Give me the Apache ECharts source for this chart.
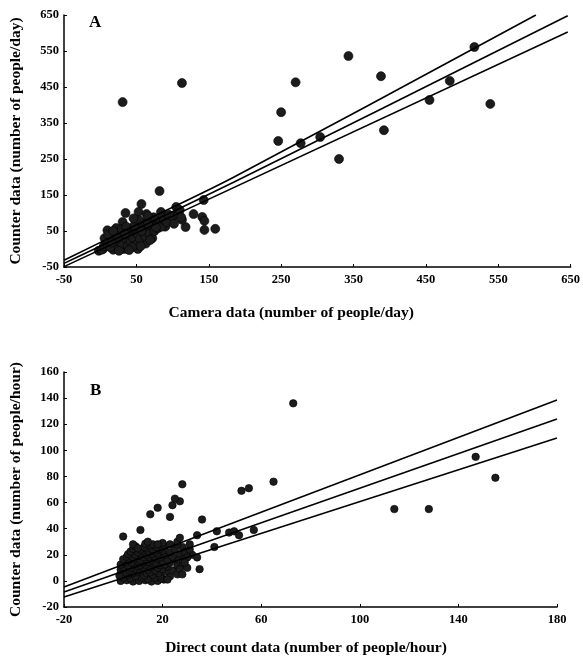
<!DOCTYPE html>
<html>
<head>
<meta charset="utf-8">
<script src="https://cdn.jsdelivr.net/npm/echarts@6/dist/echarts.min.js"></script>
<style>html,body{margin:0;padding:0;background:#fff;}#c{width:583px;height:658px;}</style>
</head>
<body>
<div id="c"></div>
<script>
// ---------- Panel A: camera vs counter (people/day) ----------
const ticksAx = [-50, 50, 150, 250, 350, 450, 550, 650];
const ticksAy = [-50, 50, 150, 250, 350, 450, 550, 650];
const pointsA = [
  [31,408],[113,461],[246,300],[250,380],[270,463],[277,294],[304,311],[330,250],
  [343,536],[388,480],[392,330],[455,414],[483,467],[517,561],[539,403],
  [82,161],[57,125],[53,103],[64,97],[84,103],[105,117],[106,100],[143,136],[129,97],
  [141,89],[144,78],[144,53],[159,56],[118,61],[113,81],[99,81],[90,69],[86,89],
  [35,100],[31,75],[10,52],[22,58],[38,55],[49,70],[60,72],[72,78],[94,86],[90,62],
  [63,20],[8,20],[4,0],[-2,-5],[2,-2],[18,-2],[33,0],[52,0],[63,15],[5,8],[10,12],
  [12,28],[15,35],[20,10],[25,22],[28,40],[30,15],[35,30],[38,8],[40,45],[42,20],
  [45,32],[48,55],[50,12],[52,40],[55,28],[58,62],[60,48],[62,35],[65,55],[68,42],
  [70,65],[72,30],[75,50],[78,70],[80,58],[82,75],[85,62],[88,80],[92,74],[95,95],
  [100,90],[102,70],[108,95],[110,108],[112,88],[6,30],[14,5],[22,45],[26,-5],[30,55],
  [44,5],[47,65],[54,80],[57,50],[66,70],[74,88],[77,60],[24,30],[36,62],[16,18],
  [40,-3],[56,8],[69,25],[11,40],[18,50],[34,42],[46,85],[66,92]
];
const upperA = [[-50,-31],[60,77],[185,200],[602,650]];
const fitA   = [[-50,-40],[185,186],[646,648]];
const lowerA = [[-50,-49],[646,603]];

// ---------- Panel B: direct count vs counter (people/hour) ----------
const ticksBx = [-20, 20, 60, 100, 140, 180];
const ticksBy = [-20, 0, 20, 40, 60, 80, 100, 120, 140, 160];
const pointsB = [
  [3,0],[5.5,0.5],[8,-0.5],[10.5,0],[13,0.5],[15.5,-0.5],[18,0],[20.5,1],
  [4,2.5],[7,2],[11.5,2.5],[14,1.5],[17,2.5],[19.5,2],
  [2.5,4],[6,4.5],[9,3.5],[12.5,4],[16,4.5],[19,4],[23,3.5],
  [5,6.5],[8,6],[10,7],[13.5,6],[15,6.5],[18.5,6],[21,7],
  [3,8.5],[6.5,8],[9.5,9],[11,8],[14,8.5],[17,8],[20,9],[24,8],
  [4,10.5],[7,10],[10,11],[12.5,10],[15,10.5],[18,10],[22,11],
  [3,12.5],[6,12],[8.5,13],[11,12],[13,12.5],[16,13],[19,12],[21,12.5],[26,12],
  [5,14.5],[7.5,14],[10,15],[12,14],[14.5,14.5],[17,14],[20,15],[23,14],
  [4,16.5],[6.5,16],[9,17],[11,16],[13.5,16.5],[15.5,16],[18,17],[22,16],[25,16.5],
  [5.5,18.5],[8,18],[10.5,19],[12.5,18],[14.5,18.5],[16.5,19],[19,18],[24,18.5],
  [6,20.5],[9,20],[11,21],[13.5,20],[15.5,20.5],[18,21],[21,20],[27,20.5],
  [7,22.5],[10,22],[12,23],[14.5,22],[17,22.5],[20,23],[23,22],
  [8,24.5],[11,24],[13.5,25],[16,24],[19,24.5],[25,24],
  [9,26.5],[12.5,26],[15,27],[17.5,26],[21,26.5],[28,26],
  [13,28.5],[16,28],[20,29],[26,28],
  [28,12],[30,10],[29,22],[32,20],[26,5],[28,16],[30,18],[27,9],[29,14],[31,24],[26,30],
  [8,28],[10,25],[14,30],[18,28],[23,28],[27,33],[31,28],[4,34],[11,39],[23,49],
  [15,51],[18,56],[24,58],[27,61],[25,63],[28,74],[34,35],[36,47],[34,18],[35,9],
  [28,5],[22,1],[42,38],[41,26],[47,37],[49,38],[51,35],[57,39],[52,69],[55,71],
  [65,76],[73,136],[114,55],[128,55],[147,95],[155,79]
];
const upperB = [[-20,-4.7],[180,138.5]];
const fitB   = [[-20,-8.5],[180,124]];
const lowerB = [[-20,-12.3],[180,109.4]];

const FONT = '"Liberation Serif", "DejaVu Serif", serif';
const DOT = '#1c1c1c';

function xAx(gi, min, max, interval, name, gap, shiftPad) {
  return {
    type: 'value', gridIndex: gi, min: min, max: max, interval: interval,
    name: name, nameLocation: 'middle', nameGap: gap,
    nameTextStyle: {fontFamily: FONT, fontWeight: 'bold', fontSize: 15.5, color: '#000',
      padding: [0, shiftPad, 0, 0]},
    axisLine: {show: true, onZero: false, lineStyle: {color: '#000', width: 1.5}},
    axisTick: {show: true, inside: true, length: 3, lineStyle: {color: '#000'}},
    axisLabel: {fontFamily: FONT, fontWeight: 'bold', fontSize: 12.5, color: '#000', margin: 6},
    splitLine: {show: false}
  };
}
function yAx(gi, min, max, interval, name, gap) {
  return {
    type: 'value', gridIndex: gi, min: min, max: max, interval: interval,
    name: name, nameLocation: 'middle', nameGap: gap,
    nameTextStyle: {fontFamily: FONT, fontWeight: 'bold', fontSize: 15.5, color: '#000'},
    axisLine: {show: true, onZero: false, lineStyle: {color: '#000', width: 1.5}},
    axisTick: {show: true, inside: true, length: 3, lineStyle: {color: '#000'}},
    axisLabel: {fontFamily: FONT, fontWeight: 'bold', fontSize: 12.5, color: '#000', margin: 5},
    splitLine: {show: false}
  };
}
function lineS(gi, data) {
  return {type: 'line', xAxisIndex: gi, yAxisIndex: gi, data: data, symbol: 'none', smooth: 0.3,
    lineStyle: {color: '#000', width: 1.6}, silent: true, z: 3};
}

const chart = echarts.init(document.getElementById('c'), null, {renderer: 'canvas'});
chart.setOption({
  animation: false,
  backgroundColor: '#fff',
  title: [
    {text: 'A', left: 84, top: 9, textStyle: {fontFamily: FONT, fontWeight: 'bold', fontSize: 17, color: '#000'}},
    {text: 'B', left: 85, top: 377, textStyle: {fontFamily: FONT, fontWeight: 'bold', fontSize: 17, color: '#000'}}
  ],
  grid: [
    {left: 57, top: 15, width: 516, height: 252},
    {left: 56, top: 372, width: 501, height: 235}
  ],
  xAxis: [
    xAx(0, -50, 650, 100, 'Camera data (number of people/day)', 38, 52),
    xAx(1, -20, 180, 40, 'Direct count data (number of people/hour)', 33, 9)
  ],
  yAxis: [
    yAx(0, -50, 650, 100, 'Counter data (number of people/day)', 40),
    yAx(1, -20, 160, 20, 'Counter data (number of people/hour)', 40)
  ],
  series: [
    {type: 'scatter', xAxisIndex: 0, yAxisIndex: 0, data: pointsA, symbolSize: 9,
      itemStyle: {color: DOT, opacity: 1, borderColor: '#000', borderWidth: 0.6}, z: 2},
    lineS(0, upperA), lineS(0, fitA), lineS(0, lowerA),
    {type: 'scatter', xAxisIndex: 1, yAxisIndex: 1, data: pointsB, symbolSize: 7.5,
      itemStyle: {color: DOT, opacity: 1, borderColor: '#000', borderWidth: 0.6}, z: 2},
    lineS(1, upperB), lineS(1, fitB), lineS(1, lowerB)
  ]
});
</script>
</body>
</html>
